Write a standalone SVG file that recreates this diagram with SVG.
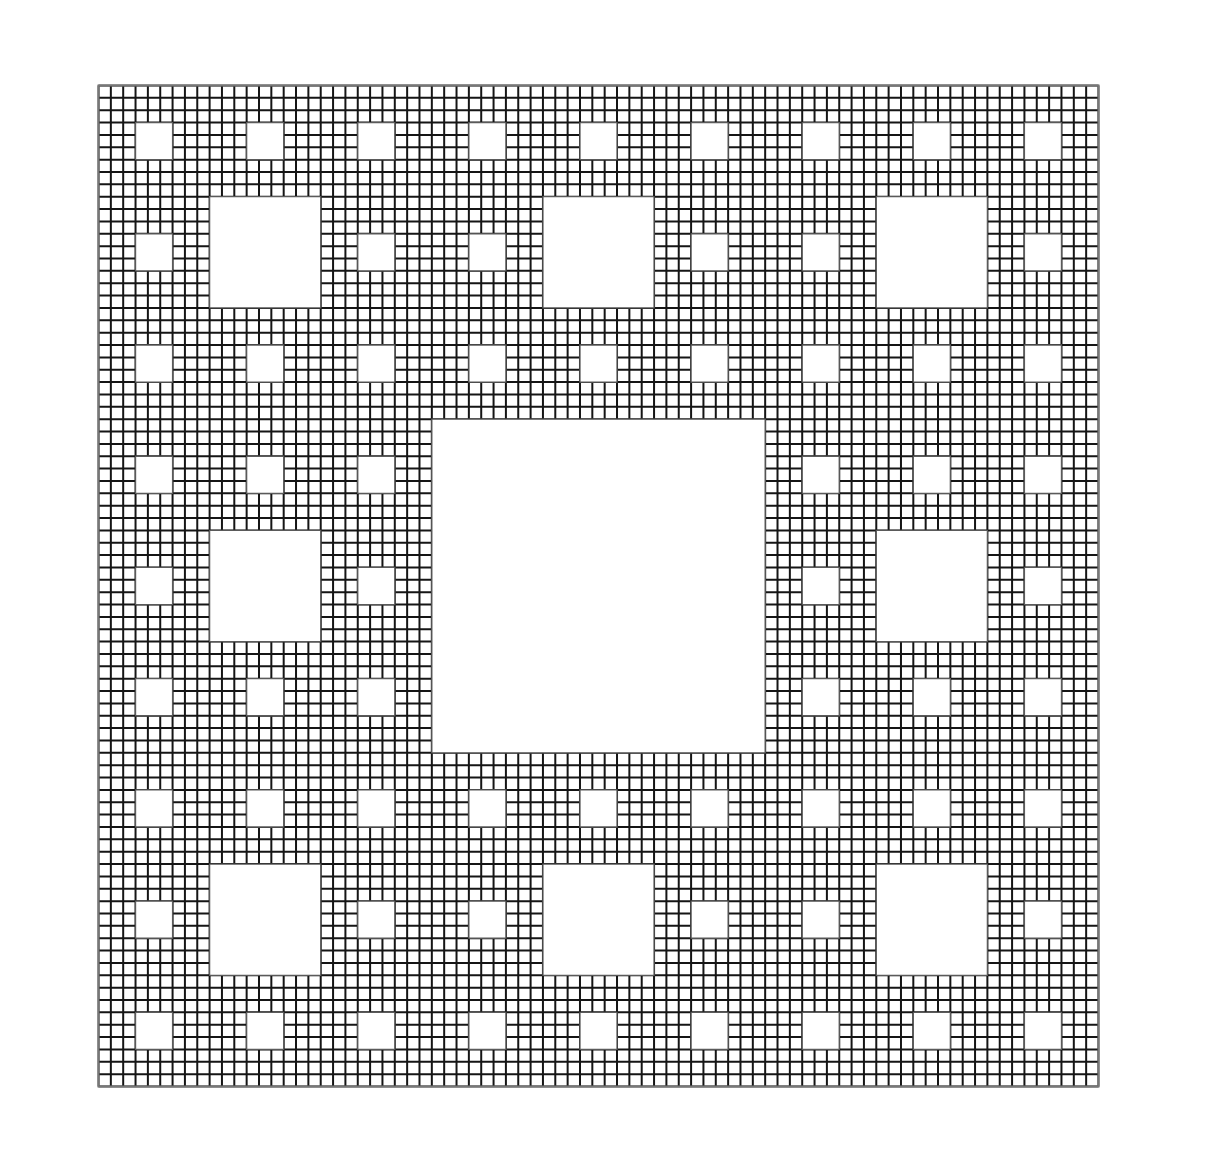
<svg xmlns="http://www.w3.org/2000/svg" width="1208" height="1176" viewBox="0 0 1208 1176">
<style>
.grid{fill:none;stroke:#151515;stroke-width:2;vector-effect:non-scaling-stroke}
.hole{fill:#fff;stroke:#5a5a5a;stroke-width:1.3;vector-effect:non-scaling-stroke}
.border{fill:none;stroke:#777;stroke-width:2;vector-effect:non-scaling-stroke}
</style>
<defs>
<clipPath id="sq"><rect x="-0.1" y="-0.1" width="81.2" height="81.2"/></clipPath>
</defs>
<rect width="1208" height="1176" fill="#fff"/>
<g id="carpet" transform="translate(98.5,85.5) scale(12.345679,12.358)">
<g clip-path="url(#sq)">
<path class="grid" d="M0 0h81
m-81 1h81m-81 1h81m-81 1h81m-81 1h81m-81 1h81m-81 1h81m-81 1h81m-81 1h81m-81 1h81m-81 1h81
m-81 1h81m-81 1h81m-81 1h81m-81 1h81m-81 1h81m-81 1h81m-81 1h81m-81 1h81m-81 1h81m-81 1h81
m-81 1h81m-81 1h81m-81 1h81m-81 1h81m-81 1h81m-81 1h81m-81 1h81m-81 1h81m-81 1h81m-81 1h81
m-81 1h81m-81 1h81m-81 1h81m-81 1h81m-81 1h81m-81 1h81m-81 1h81m-81 1h81m-81 1h81m-81 1h81
m-81 1h81m-81 1h81m-81 1h81m-81 1h81m-81 1h81m-81 1h81m-81 1h81m-81 1h81m-81 1h81m-81 1h81
m-81 1h81m-81 1h81m-81 1h81m-81 1h81m-81 1h81m-81 1h81m-81 1h81m-81 1h81m-81 1h81m-81 1h81
m-81 1h81m-81 1h81m-81 1h81m-81 1h81m-81 1h81m-81 1h81m-81 1h81m-81 1h81m-81 1h81m-81 1h81
m-81 1h81m-81 1h81m-81 1h81m-81 1h81m-81 1h81m-81 1h81m-81 1h81m-81 1h81m-81 1h81m-81 1h81
m-81 1h81m-81 1h81m-81 1h81m-81 1h81m-81 1h81m-81 1h81m-81 1h81m-81 1h81m-81 1h81m-81 1h81
m-81 1h81m-81 1h81m-81 1h81m-81 1h81m-81 1h81m-81 1h81m-81 1h81m-81 1h81m-81 1h81m-81 1h81"/>
<path class="grid" d="M0 0v81
m1-81v81m1-81v81m1-81v81m1-81v81m1-81v81m1-81v81m1-81v81m1-81v81m1-81v81m1-81v81
m1-81v81m1-81v81m1-81v81m1-81v81m1-81v81m1-81v81m1-81v81m1-81v81m1-81v81m1-81v81
m1-81v81m1-81v81m1-81v81m1-81v81m1-81v81m1-81v81m1-81v81m1-81v81m1-81v81m1-81v81
m1-81v81m1-81v81m1-81v81m1-81v81m1-81v81m1-81v81m1-81v81m1-81v81m1-81v81m1-81v81
m1-81v81m1-81v81m1-81v81m1-81v81m1-81v81m1-81v81m1-81v81m1-81v81m1-81v81m1-81v81
m1-81v81m1-81v81m1-81v81m1-81v81m1-81v81m1-81v81m1-81v81m1-81v81m1-81v81m1-81v81
m1-81v81m1-81v81m1-81v81m1-81v81m1-81v81m1-81v81m1-81v81m1-81v81m1-81v81m1-81v81
m1-81v81m1-81v81m1-81v81m1-81v81m1-81v81m1-81v81m1-81v81m1-81v81m1-81v81m1-81v81
m1-81v81m1-81v81m1-81v81m1-81v81m1-81v81m1-81v81m1-81v81m1-81v81m1-81v81m1-81v81
m1-81v81m1-81v81m1-81v81m1-81v81m1-81v81m1-81v81m1-81v81m1-81v81m1-81v81m1-81v81"/>
</g>
<rect class="hole" x="27" y="27" width="27" height="27"/>
<rect class="hole" x="9" y="9" width="9" height="9"/>
<rect class="hole" x="36" y="9" width="9" height="9"/>
<rect class="hole" x="63" y="9" width="9" height="9"/>
<rect class="hole" x="9" y="36" width="9" height="9"/>
<rect class="hole" x="63" y="36" width="9" height="9"/>
<rect class="hole" x="9" y="63" width="9" height="9"/>
<rect class="hole" x="36" y="63" width="9" height="9"/>
<rect class="hole" x="63" y="63" width="9" height="9"/>
<rect class="hole" x="3" y="3" width="3" height="3"/><rect class="hole" x="12" y="3" width="3" height="3"/><rect class="hole" x="21" y="3" width="3" height="3"/><rect class="hole" x="30" y="3" width="3" height="3"/><rect class="hole" x="39" y="3" width="3" height="3"/><rect class="hole" x="48" y="3" width="3" height="3"/><rect class="hole" x="57" y="3" width="3" height="3"/><rect class="hole" x="66" y="3" width="3" height="3"/><rect class="hole" x="75" y="3" width="3" height="3"/>
<rect class="hole" x="3" y="12" width="3" height="3"/><rect class="hole" x="21" y="12" width="3" height="3"/><rect class="hole" x="30" y="12" width="3" height="3"/><rect class="hole" x="48" y="12" width="3" height="3"/><rect class="hole" x="57" y="12" width="3" height="3"/><rect class="hole" x="75" y="12" width="3" height="3"/>
<rect class="hole" x="3" y="21" width="3" height="3"/><rect class="hole" x="12" y="21" width="3" height="3"/><rect class="hole" x="21" y="21" width="3" height="3"/><rect class="hole" x="30" y="21" width="3" height="3"/><rect class="hole" x="39" y="21" width="3" height="3"/><rect class="hole" x="48" y="21" width="3" height="3"/><rect class="hole" x="57" y="21" width="3" height="3"/><rect class="hole" x="66" y="21" width="3" height="3"/><rect class="hole" x="75" y="21" width="3" height="3"/>
<rect class="hole" x="3" y="30" width="3" height="3"/><rect class="hole" x="12" y="30" width="3" height="3"/><rect class="hole" x="21" y="30" width="3" height="3"/><rect class="hole" x="57" y="30" width="3" height="3"/><rect class="hole" x="66" y="30" width="3" height="3"/><rect class="hole" x="75" y="30" width="3" height="3"/>
<rect class="hole" x="3" y="39" width="3" height="3"/><rect class="hole" x="21" y="39" width="3" height="3"/><rect class="hole" x="57" y="39" width="3" height="3"/><rect class="hole" x="75" y="39" width="3" height="3"/>
<rect class="hole" x="3" y="48" width="3" height="3"/><rect class="hole" x="12" y="48" width="3" height="3"/><rect class="hole" x="21" y="48" width="3" height="3"/><rect class="hole" x="57" y="48" width="3" height="3"/><rect class="hole" x="66" y="48" width="3" height="3"/><rect class="hole" x="75" y="48" width="3" height="3"/>
<rect class="hole" x="3" y="57" width="3" height="3"/><rect class="hole" x="12" y="57" width="3" height="3"/><rect class="hole" x="21" y="57" width="3" height="3"/><rect class="hole" x="30" y="57" width="3" height="3"/><rect class="hole" x="39" y="57" width="3" height="3"/><rect class="hole" x="48" y="57" width="3" height="3"/><rect class="hole" x="57" y="57" width="3" height="3"/><rect class="hole" x="66" y="57" width="3" height="3"/><rect class="hole" x="75" y="57" width="3" height="3"/>
<rect class="hole" x="3" y="66" width="3" height="3"/><rect class="hole" x="21" y="66" width="3" height="3"/><rect class="hole" x="30" y="66" width="3" height="3"/><rect class="hole" x="48" y="66" width="3" height="3"/><rect class="hole" x="57" y="66" width="3" height="3"/><rect class="hole" x="75" y="66" width="3" height="3"/>
<rect class="hole" x="3" y="75" width="3" height="3"/><rect class="hole" x="12" y="75" width="3" height="3"/><rect class="hole" x="21" y="75" width="3" height="3"/><rect class="hole" x="30" y="75" width="3" height="3"/><rect class="hole" x="39" y="75" width="3" height="3"/><rect class="hole" x="48" y="75" width="3" height="3"/><rect class="hole" x="57" y="75" width="3" height="3"/><rect class="hole" x="66" y="75" width="3" height="3"/><rect class="hole" x="75" y="75" width="3" height="3"/>
<rect class="border" x="0" y="0" width="81" height="81"/>
</g>
</svg>
